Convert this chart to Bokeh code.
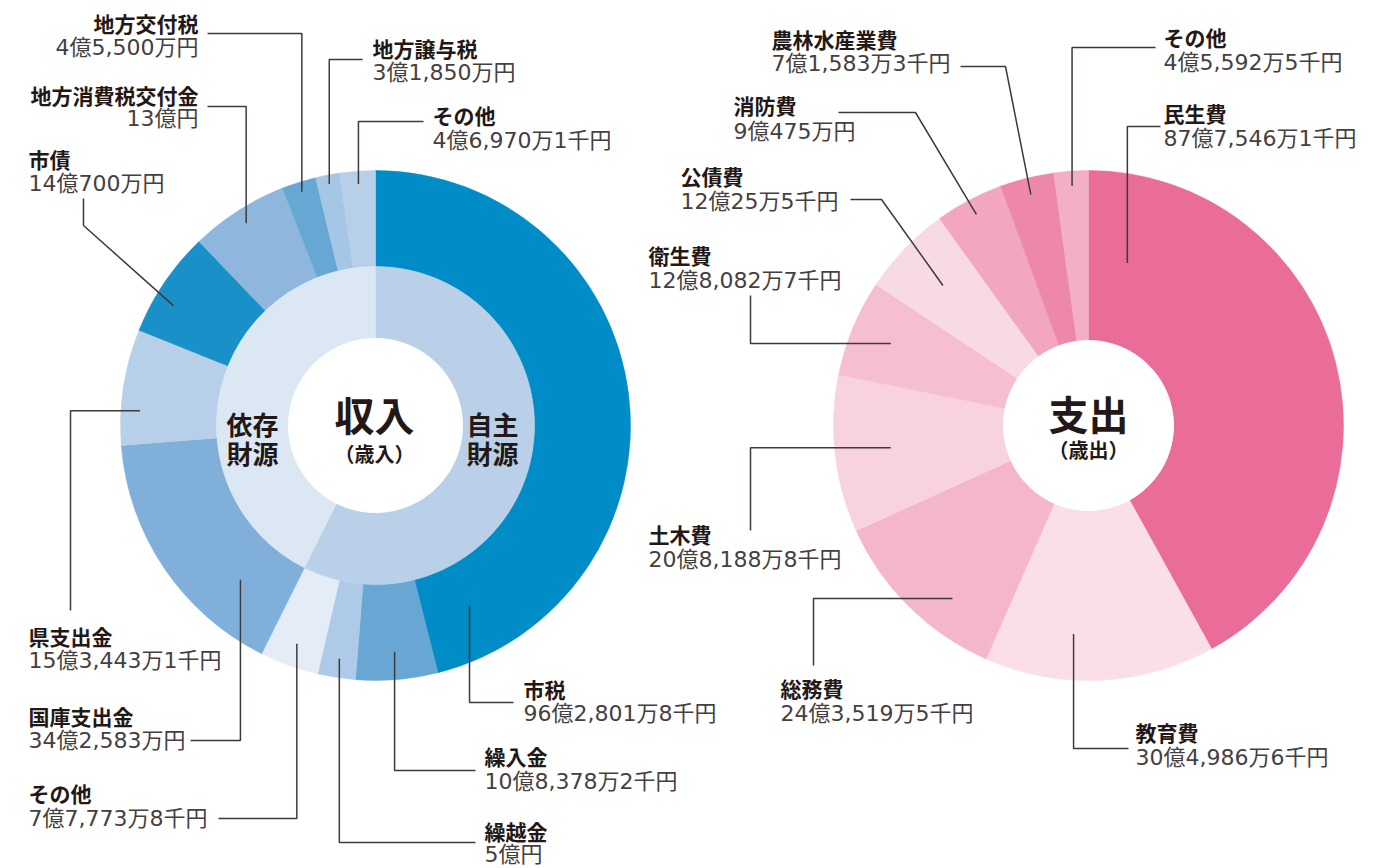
import math
from bokeh.plotting import figure
from bokeh.models import ColumnDataSource, Range1d
from bokeh.embed import file_html
from bokeh.resources import INLINE
from bokeh.core.properties import value

# ---------------- data (億円) ----------------
rev_names = ["市税", "繰入金", "繰越金", "その他", "国庫支出金", "県支出金", "市債",
             "地方消費税交付金", "地方交付税", "地方譲与税", "その他"]
rev_values = [96.28018, 10.83782, 5.0, 7.77738, 34.2583, 15.34431, 14.07,
              13.0, 4.55, 3.185, 4.69701]
rev_texts = ["96億2,801万8千円", "10億8,378万2千円", "5億円", "7億7,773万8千円",
             "34億2,583万円", "15億3,443万1千円", "14億700万円", "13億円",
             "4億5,500万円", "3億1,850万円", "4億6,970万1千円"]
rev_colors = ["#008cc6", "#68a6d3", "#adcae8", "#e3ecf7", "#80b0da", "#b8cfe9",
              "#1a90c9", "#8fb6dc", "#66a7d4", "#a6c6e5", "#b8cfe9"]

src_names = ["自主財源", "依存財源"]
src_values = [119.89538, 89.10462]
src_colors = ["#b9d0e8", "#dce7f4"]

exp_names = ["民生費", "教育費", "総務費", "土木費", "衛生費", "公債費", "消防費",
             "農林水産業費", "その他"]
exp_values = [87.75461, 30.49866, 24.35195, 20.81888, 12.80827, 12.00255, 9.0475,
              7.15833, 4.55925]
exp_texts = ["87億7,546万1千円", "30億4,986万6千円", "24億3,519万5千円",
             "20億8,188万8千円", "12億8,082万7千円", "12億25万5千円", "9億475万円",
             "7億1,583万3千円", "4億5,592万5千円"]
exp_colors = ["#ea6c99", "#fadfe8", "#f4b6ca", "#f8d2de", "#f5bfd0", "#f8dae3",
              "#f2a7bf", "#ee88aa", "#f3afc5"]

# ---------------- layout (screen px) ----------------
W, H = 1385, 868
FONT = "Noto Sans CJK JP"
VFONT = "DejaVu Sans, Noto Sans CJK JP"
NAME_C = "#231815"
VAL_C = "#45403f"
LINE_C = "#3e3a39"

L_CX, L_CY = 375, 425
R_CX, R_CY = 1088, 425
R_OUT, R_MID, R_IN = 255, 159, 87
R_IN2 = 85

# label layout: align, text x, name y, value y, line kind, line params, tip fraction, tip radius
rev_layout = [
    ("left", 523, 688, 713, "v", (513, 702), 0.919, 203),
    ("left", 484, 755, 781, "v", (475, 770), 0.5, 227),
    ("left", 484, 830, 854, "v", (475, 842), 0.5, 236),
    ("left", 28, 792, 818, "v", (218, 818), 0.5, 232),
    ("left", 28, 715, 740, "v", (190, 740), 0.249, 205),
    ("left", 28, 635, 660, "h", (70, 610), 0.305, 236),
    ("left", 28, 158, 183, "d", (83, 198, 83, 225), 0.36, 235),
    ("right", 198, 94, 118, "v", (207, 106), 0.5, 240),
    ("right", 198, 22, 47, "v", (207, 33), 0.5, 245),
    ("left", 372, 47, 72, "v", (362, 59), 0.5, 246),
    ("left", 432, 114, 140, "v", (423, 121), 0.5, 242),
]
exp_layout = [
    ("left", 1163, 112, 138, "v", (1160, 126), 0.089, 167),
    ("left", 1135, 731, 757, "v", (1128, 748), 0.627, 209),
    ("left", 780, 687, 713, "h", (813, 665), 0.346, 220),
    ("left", 648, 533, 559, "h", (750, 530), 0.5, 199),
    ("left", 648, 254, 280, "h", (750, 295), 0.5, 214),
    ("left", 680, 175, 201, "d", (850, 199, 881, 199), 0.5, 202),
    ("left", 733, 104, 131, "d", (838, 112, 915, 112), 0.5, 239),
    ("left", 771, 38, 63, "d", (960, 66, 1005, 66), 0.5, 238),
    ("left", 1163, 36, 62, "v", (1155, 47), 0.5, 240),
]


def Y(ys):
    return H - ys


p = figure(width=W, height=H, x_range=Range1d(0, W), y_range=Range1d(0, H),
           x_axis_type=None, y_axis_type=None, toolbar_location=None,
           output_backend="svg", min_border=0, outline_line_color=None)
p.grid.visible = False
p.background_fill_color = "white"
p.border_fill_color = "white"


def wedge_angles(vals):
    tot = sum(vals)
    starts, ends = [], []
    c = 0.0
    for v in vals:
        starts.append(c)
        c += v / tot * 2 * math.pi
        ends.append(c)
    return starts, ends  # clockwise from top


def draw_ring(cx, cy, vals, colors, r0, r1):
    s, e = wedge_angles(vals)
    src = ColumnDataSource(dict(
        start=[math.pi / 2 - b for b in e],
        end=[math.pi / 2 - a for a in s],
        color=colors,
    ))
    p.annular_wedge(x=cx, y=Y(cy), inner_radius=r0, outer_radius=r1,
                    start_angle="start", end_angle="end", color="color",
                    line_color="color", line_width=0.5, source=src)
    return s, e


def draw_labels(cx, cy, vals, names, texts, layout):
    s, e = wedge_angles(vals)
    xs, ys = [], []
    for i, (align, tx, ny, vy, kind, prm, frac, tr) in enumerate(layout):
        th = s[i] + frac * (e[i] - s[i])
        tipx = cx + tr * math.sin(th)
        tipy = cy - tr * math.cos(th)
        if kind == "v":
            ex, ly = prm
            pts = [(ex, ly), (tipx, ly), (tipx, tipy)]
        elif kind == "h":
            vx, ey = prm
            pts = [(vx, ey), (vx, tipy), (tipx, tipy)]
        else:
            ax, ay, bx, by = prm
            pts = [(ax, ay), (bx, by), (tipx, tipy)]
        xs.append([q[0] for q in pts])
        ys.append([Y(q[1]) for q in pts])
        p.text(x=[tx], y=[Y(ny)], text=[names[i]], text_font=value(FONT),
               text_font_style="bold", text_font_size="21px", text_color=NAME_C,
               text_align=align, text_baseline="middle")
        p.text(x=[tx], y=[Y(vy)], text=[texts[i]], text_font=value(VFONT),
               text_font_size="22px", text_color=VAL_C,
               text_align=align, text_baseline="middle")
    p.multi_line(xs=xs, ys=ys, line_color=LINE_C, line_width=1.5)


# revenue donut
draw_ring(L_CX, L_CY, rev_values, rev_colors, R_MID, R_OUT)
draw_ring(L_CX, L_CY, src_values, src_colors, R_IN, R_MID)
p.circle(x=[L_CX], y=[Y(L_CY)], radius=R_IN, color="white")

# expenditure donut
draw_ring(R_CX, R_CY, exp_values, exp_colors, R_IN2, R_OUT)
p.circle(x=[R_CX], y=[Y(R_CY)], radius=R_IN2, color="white")

draw_labels(L_CX, L_CY, rev_values, rev_names, rev_texts, rev_layout)
draw_labels(R_CX, R_CY, exp_values, exp_names, exp_texts, exp_layout)

# center texts
def ctext(x, y, t, size, style="bold"):
    p.text(x=[x], y=[Y(y)], text=[t], text_font=value(FONT), text_font_style=style,
           text_font_size=size, text_color=NAME_C, text_align="center",
           text_baseline="middle")

ctext(L_CX - 1, 413, "収入", "40px")
ctext(L_CX - 1, 453, "（歳入）", "20px")
ctext(492, 423, "自主", "26px")
ctext(492, 452, "財源", "26px")
ctext(252, 423, "依存", "26px")
ctext(252, 452, "財源", "26px")
ctext(R_CX, 412, "支出", "40px")
ctext(R_CX, 449, "（歳出）", "20px")

open("out.html", "w").write(file_html(p, INLINE))
